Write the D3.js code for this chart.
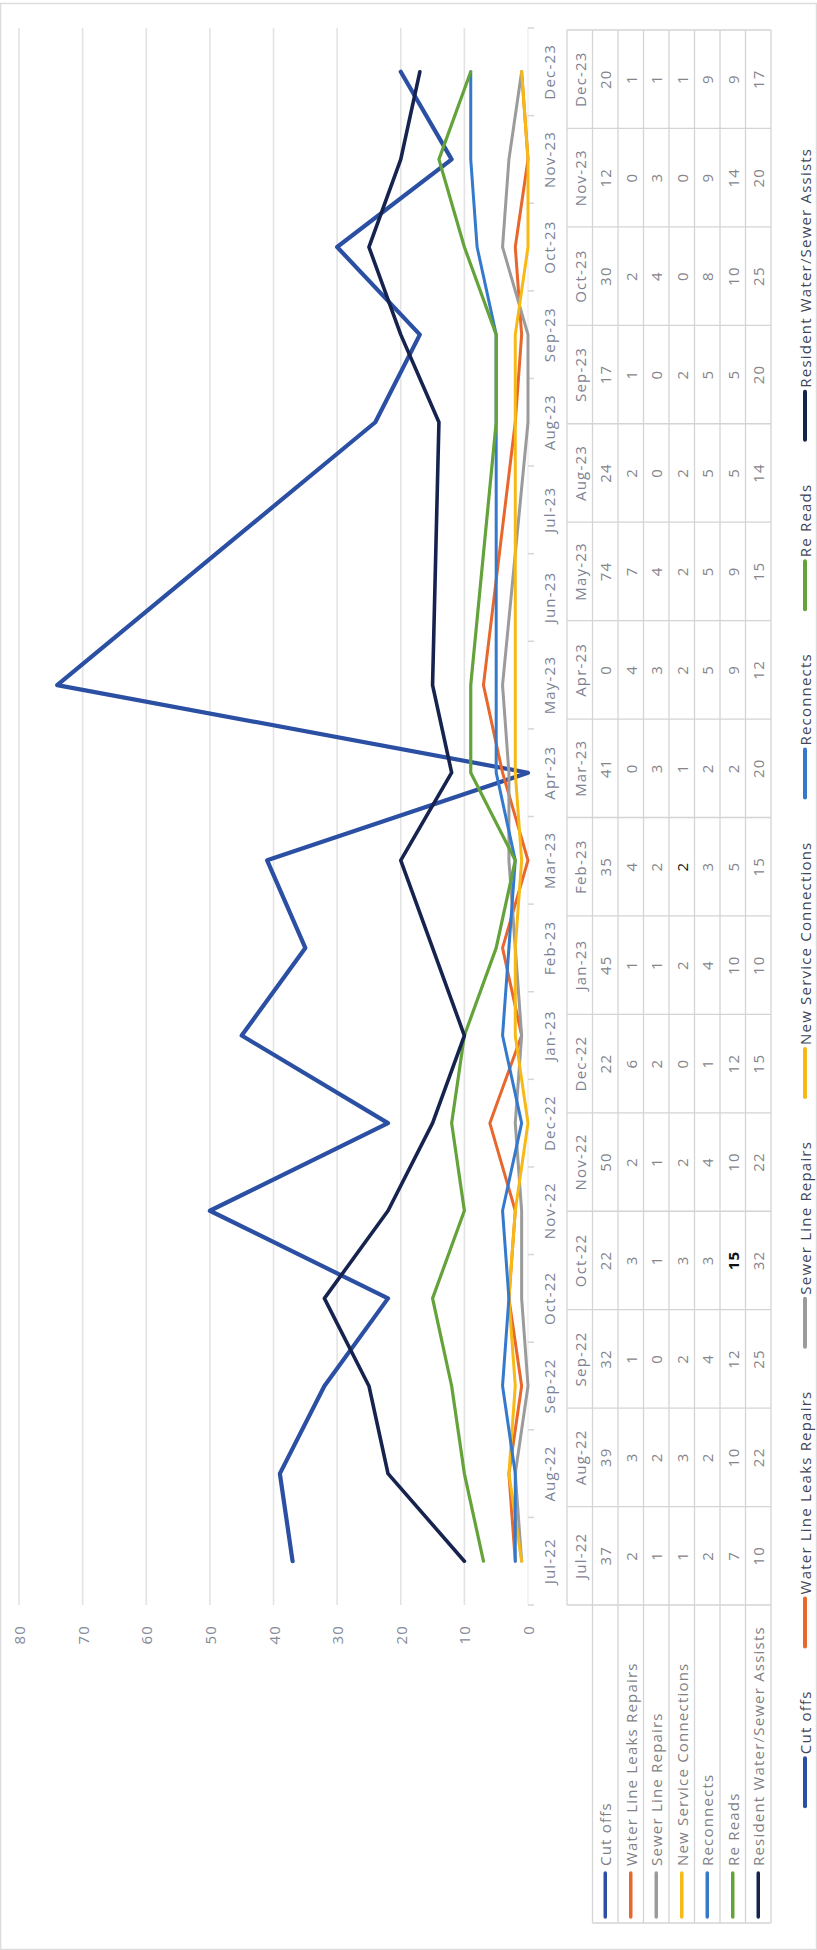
<!DOCTYPE html>
<html>
<head>
<meta charset="utf-8">
<script src="https://cdn.jsdelivr.net/npm/d3@7"></script>
<style>
  html, body { margin: 0; padding: 0; background: #ffffff; }
  svg { display: block; font-family: "Open Sans", "Liberation Sans", sans-serif; }
</style>
</head>
<body>
<svg id="chart" width="817" height="1950"></svg>
<script>
// Category axis (every month of the period)
const axisMonths = ["Jul-22","Aug-22","Sep-22","Oct-22","Nov-22","Dec-22","Jan-23","Feb-23",
  "Mar-23","Apr-23","May-23","Jun-23","Jul-23","Aug-23","Sep-23","Oct-23","Nov-23","Dec-23"];

// Months that have reported figures
const dataMonths = ["Jul-22","Aug-22","Sep-22","Oct-22","Nov-22","Dec-22","Jan-23","Feb-23",
  "Mar-23","Apr-23","May-23","Aug-23","Sep-23","Oct-23","Nov-23","Dec-23"];

const seriesNames = ["Cut offs","Water Line Leaks Repairs","Sewer Line Repairs",
  "New Service Connections","Reconnects","Re Reads","Resident Water/Sewer Assists"];

const cutOffs          = [37, 39, 32, 22, 50, 22, 45, 35, 41,  0, 74, 24, 17, 30, 12, 20];
const waterLineLeaks   = [ 2,  3,  1,  3,  2,  6,  1,  4,  0,  4,  7,  2,  1,  2,  0,  1];
const sewerLineRepairs = [ 1,  2,  0,  1,  1,  2,  1,  2,  3,  3,  4,  0,  0,  4,  3,  1];
const newConnections   = [ 1,  3,  2,  3,  2,  0,  2,  2,  1,  2,  2,  2,  2,  0,  0,  1];
const reconnects       = [ 2,  2,  4,  3,  4,  1,  4,  3,  2,  5,  5,  5,  5,  8,  9,  9];
const reReads          = [ 7, 10, 12, 15, 10, 12, 10,  5,  2,  9,  9,  5,  5, 10, 14,  9];
const residentAssists  = [10, 22, 25, 32, 22, 15, 10, 15, 20, 12, 15, 14, 20, 25, 20, 17];

const valueTicks = [0, 10, 20, 30, 40, 50, 60, 70, 80];

// Table cells typed in dark ink: [series, month, bold]
const darkCells = [["Re Reads", "Oct-22", true], ["New Service Connections", "Feb-23", false]];

const seriesValues = [cutOffs, waterLineLeaks, sewerLineRepairs, newConnections,
  reconnects, reReads, residentAssists];
const seriesColors = ["#2b4fa3", "#e8672c", "#9b9b9b", "#f7b916", "#3479cc", "#64a23a", "#17234f"];
const seriesWidths = [4.2, 3, 3, 3, 3, 3.2, 3.6];

const series = seriesNames.map((name, i) => ({
  name, color: seriesColors[i], width: seriesWidths[i],
  values: dataMonths.map((m, j) => ({ month: m, value: seriesValues[i][j] }))
}));

// The chart is laid out landscape (W x H) and turned a quarter to fit the page.
const W = 1950, H = 817;
const plotLeft = 345, plotRight = 1922;
const svg = d3.select("#chart");
const root = svg.append("g").attr("transform", `translate(0,${W}) rotate(-90)`);

const txt = { size: 15, spacing: 1.2 };

// chart border
root.append("rect").attr("x", 0.5).attr("y", 0.5).attr("width", W - 4).attr("height", H - 1)
  .attr("fill", "none").attr("stroke", "#dcdcdc").attr("stroke-width", 1.5);

const x = d3.scalePoint().domain(axisMonths).range([plotLeft, plotRight]).padding(0.5);
const xBand = d3.scaleBand().domain(axisMonths).range([plotLeft, plotRight]);
const y = d3.scaleLinear().domain([0, 80]).range([528, 19]);

// gridlines
root.append("g").selectAll("line").data(valueTicks.filter(v => v > 0)).join("line")
  .attr("x1", plotLeft).attr("x2", plotRight)
  .attr("y1", d => y(d)).attr("y2", d => y(d))
  .attr("stroke", "#e3e3e3").attr("stroke-width", 1.6);

// value labels
root.append("g").selectAll("text").data(valueTicks).join("text")
  .attr("x", plotLeft - 20).attr("y", d => y(d))
  .attr("text-anchor", "end").attr("dominant-baseline", "central")
  .attr("font-size", txt.size).attr("letter-spacing", txt.spacing)
  .attr("fill", "#858a97").text(d => d);

// category axis: line, ticks between months, labels
const axisY = y(0);
root.append("line").attr("x1", plotLeft).attr("x2", plotRight)
  .attr("y1", axisY).attr("y2", axisY).attr("stroke", "#ececec").attr("stroke-width", 1.2);
const boundaries = axisMonths.map(m => xBand(m)).concat([plotRight]);
root.append("g").selectAll("line").data(boundaries).join("line")
  .attr("x1", d => d).attr("x2", d => d).attr("y1", axisY).attr("y2", axisY + 6)
  .attr("stroke", "#d6d6d6").attr("stroke-width", 1.5);
root.append("g").selectAll("text").data(axisMonths).join("text")
  .attr("x", d => x(d)).attr("y", 549)
  .attr("text-anchor", "middle").attr("dominant-baseline", "central")
  .attr("font-size", txt.size).attr("letter-spacing", txt.spacing)
  .attr("fill", "#7d8292").text(d => d);

// series lines
const line = d3.line().x(d => x(d.month)).y(d => y(d.value));
root.append("g").selectAll("path").data(series).join("path")
  .attr("d", d => line(d.values))
  .attr("fill", "none").attr("stroke", d => d.color).attr("stroke-width", d => d.width)
  .attr("stroke-linejoin", "round").attr("stroke-linecap", "round");

// data table
const tableTop = 567, rowH = 25.5, headLeft = 27;
const col = d3.scaleBand().domain(dataMonths).range([plotLeft, plotRight - 2]);
const rowTop = i => tableTop + rowH * (i + 1);
const tableBottom = rowTop(seriesNames.length);
const grid = root.append("g").attr("stroke", "#d4d4d4").attr("stroke-width", 1.3);
// horizontal rules
grid.append("line").attr("x1", plotLeft).attr("x2", col.range()[1])
  .attr("y1", tableTop).attr("y2", tableTop);
grid.selectAll("line.row").data(d3.range(seriesNames.length + 1)).join("line").attr("class", "row")
  .attr("x1", headLeft).attr("x2", col.range()[1])
  .attr("y1", i => rowTop(i)).attr("y2", i => rowTop(i));
// vertical rules
grid.selectAll("line.col").data(dataMonths.map(m => col(m)).concat([col.range()[1]])).join("line")
  .attr("class", "col")
  .attr("x1", d => d).attr("x2", d => d).attr("y1", tableTop).attr("y2", tableBottom);
grid.append("line").attr("x1", headLeft).attr("x2", headLeft)
  .attr("y1", rowTop(0)).attr("y2", tableBottom);

// column headings
root.append("g").selectAll("text").data(dataMonths).join("text")
  .attr("x", d => col(d) + col.bandwidth() / 2).attr("y", tableTop + rowH / 2)
  .attr("text-anchor", "middle").attr("dominant-baseline", "central")
  .attr("font-size", txt.size).attr("letter-spacing", txt.spacing)
  .attr("fill", "#7d8292").text(d => d);

// row headings with legend keys
const rows = root.append("g").selectAll("g").data(series).join("g")
  .attr("transform", (d, i) => `translate(0,${rowTop(i) + rowH / 2})`);
rows.append("line").attr("x1", 33).attr("x2", 77).attr("y1", 0).attr("y2", 0)
  .attr("stroke", d => d.color).attr("stroke-width", 3.5).attr("stroke-linecap", "round");
rows.append("text").attr("x", 84).attr("y", 0).attr("dominant-baseline", "central")
  .attr("font-size", txt.size).attr("letter-spacing", txt.spacing)
  .attr("fill", "#7f7f85").text(d => d.name);

// cell values
rows.each(function (s) {
  d3.select(this).selectAll("text.v").data(s.values).join("text").attr("class", "v")
    .attr("x", d => col(d.month) + col.bandwidth() / 2).attr("y", 0)
    .attr("text-anchor", "middle").attr("dominant-baseline", "central")
    .attr("font-size", txt.size).attr("letter-spacing", txt.spacing)
    .attr("fill", d => darkCells.some(c => c[0] === s.name && c[1] === d.month) ? "#111111" : "#85858a")
    .attr("font-weight", d => darkCells.some(c => c[0] === s.name && c[1] === d.month && c[2]) ? 700 : 400)
    .text(d => d.value);
});

// legend along the bottom edge
const legend = root.append("g").attr("transform", "translate(0,805)");
const items = legend.selectAll("g").data(series).join("g");
items.append("line").attr("x1", 0).attr("x2", 48).attr("y1", 0).attr("y2", 0)
  .attr("stroke", d => d.color).attr("stroke-width", 4).attr("stroke-linecap", "round");
items.append("text").attr("x", 52).attr("y", 0).attr("dominant-baseline", "central")
  .attr("font-size", txt.size).attr("letter-spacing", txt.spacing)
  .attr("fill", "#3f4658").text(d => d.name);
const gap = 44;
const widths = [];
items.each(function () { widths.push(52 + d3.select(this).select("text").node().getComputedTextLength()); });
const total = d3.sum(widths) + gap * (widths.length - 1);
let cursor = (W - 4 - total) / 2;
items.attr("transform", (d, i) => {
  const t = `translate(${cursor},0)`;
  cursor += widths[i] + gap;
  return t;
});
</script>
</body>
</html>
